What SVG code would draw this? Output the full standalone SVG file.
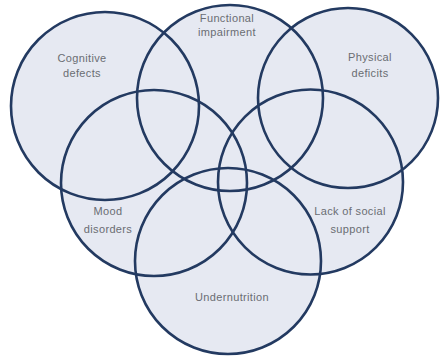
<svg xmlns="http://www.w3.org/2000/svg" width="440" height="357" viewBox="0 0 440 357">
<style>
.f{fill:#e6e9f2;stroke:none}
.c{fill:none;stroke:#233a61;stroke-width:2.6}
.t{font-family:"Liberation Sans",Arial,sans-serif;font-size:11px;fill:#6a6d73;text-anchor:middle;letter-spacing:0.35px}
</style>
<rect width="440" height="357" fill="#ffffff"/>
<g id="fills">
<circle class="f" cx="105" cy="106" r="94"/>
<circle class="f" cx="230" cy="98" r="93"/>
<circle class="f" cx="348" cy="98" r="90"/>
<circle class="f" cx="154" cy="183" r="93"/>
<circle class="f" cx="310.5" cy="182" r="92.5"/>
<circle class="f" cx="228" cy="261" r="93"/>
</g>
<g id="cognitive">
<circle class="c" cx="105" cy="106" r="94"/>
<text class="t" x="82" y="62">Cognitive</text>
<text class="t" x="82" y="77">defects</text>
</g>
<g id="functional">
<circle class="c" cx="230" cy="98" r="93"/>
<text class="t" x="227" y="22">Functional</text>
<text class="t" x="227" y="36">impairment</text>
</g>
<g id="physical">
<circle class="c" cx="348" cy="98" r="90"/>
<text class="t" x="370" y="61">Physical</text>
<text class="t" x="370" y="77">deficits</text>
</g>
<g id="mood">
<circle class="c" cx="154" cy="183" r="93"/>
<text class="t" x="108" y="215">Mood</text>
<text class="t" x="108" y="233">disorders</text>
</g>
<g id="social">
<circle class="c" cx="310.5" cy="182" r="92.5"/>
<text class="t" x="350" y="215">Lack of social</text>
<text class="t" x="350" y="233">support</text>
</g>
<g id="undernutrition">
<circle class="c" cx="228" cy="261" r="93"/>
<text class="t" x="232" y="301">Undernutrition</text>
</g>
<g id="connectors"></g>
</svg>
